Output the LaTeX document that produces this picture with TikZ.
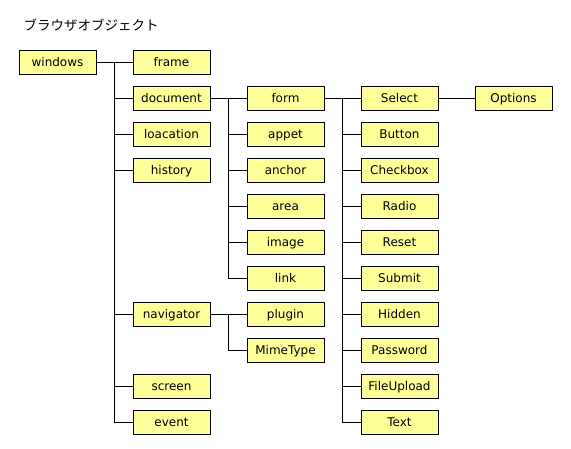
\documentclass[tikz,border=0pt]{standalone}
\usepackage{fontspec}
\setmainfont{DejaVu Sans}
\newfontfamily\jpfont{Noto Sans CJK JP}
\usetikzlibrary{positioning}
\definecolor{objyellow}{RGB}{255,255,153}
\tikzstyle{obj} = [rectangle, minimum width=77pt, minimum height=24pt, inner sep=0pt, outer sep=0pt, text height=9.8pt, text depth=2.4pt, text centered, draw=black, fill=objyellow, font=\fontsize{12}{14}\selectfont]
\tikzstyle{link} = [line width=0.8pt]

\begin{document}
\begin{tikzpicture}[node distance=12pt and 37pt]
\useasboundingbox (0,0) rectangle (571pt,-449pt);
\node (title) [anchor=west, font=\jpfont\fontsize{13.5}{15}\selectfont] at (20pt,-25pt) {ブラウザオブジェクト};
\node (windows) [obj] at (57.5pt,-62.5pt) {windows};
\node (frame) [obj, right=of windows] {frame};
\node (document) [obj, below=of frame] {document};
\node (loacation) [obj, below=of document] {loacation};
\node (history) [obj, below=of loacation] {history};
\node (navigator) [obj, below=120pt of history] {navigator};
\node (screen) [obj, below=48pt of navigator] {screen};
\node (event) [obj, below=of screen] {event};

\node (form) [obj, right=of document] {form};
\node (appet) [obj, below=of form] {appet};
\node (anchor) [obj, below=of appet] {anchor};
\node (area) [obj, below=of anchor] {area};
\node (image) [obj, below=of area] {image};
\node (linknode) [obj, below=of image] {link};
\node (plugin) [obj, right=of navigator] {plugin};
\node (MimeType) [obj, below=of plugin] {MimeType};

\node (Select) [obj, right=of form] {Select};
\node (Button) [obj, below=of Select] {Button};
\node (Checkbox) [obj, below=of Button] {Checkbox};
\node (Radio) [obj, below=of Checkbox] {Radio};
\node (Reset) [obj, below=of Radio] {Reset};
\node (Submit) [obj, below=of Reset] {Submit};
\node (Hidden) [obj, below=of Submit] {Hidden};
\node (Password) [obj, below=of Hidden] {Password};
\node (FileUpload) [obj, below=of Password] {FileUpload};
\node (Text) [obj, below=of FileUpload] {Text};
\node (Options) [obj, right=of Select] {Options};

\draw [link] (windows) -- (frame);
\foreach \c in {document,loacation,history,navigator,screen,event}
  \draw [link] ([xshift=-18.5pt]frame.west) |- (\c);
\draw [link] (document) -- (form);
\foreach \c in {appet,anchor,area,image,linknode}
  \draw [link] ([xshift=-18.5pt]form.west) |- (\c);
\draw [link] (navigator) -- (plugin);
\draw [link] ([xshift=-18.5pt]plugin.west) |- (MimeType);
\draw [link] (form) -- (Select);
\foreach \c in {Button,Checkbox,Radio,Reset,Submit,Hidden,Password,FileUpload,Text}
  \draw [link] ([xshift=-18.5pt]Select.west) |- (\c);
\draw [link] (Select) -- (Options);
\end{tikzpicture}
\end{document}
